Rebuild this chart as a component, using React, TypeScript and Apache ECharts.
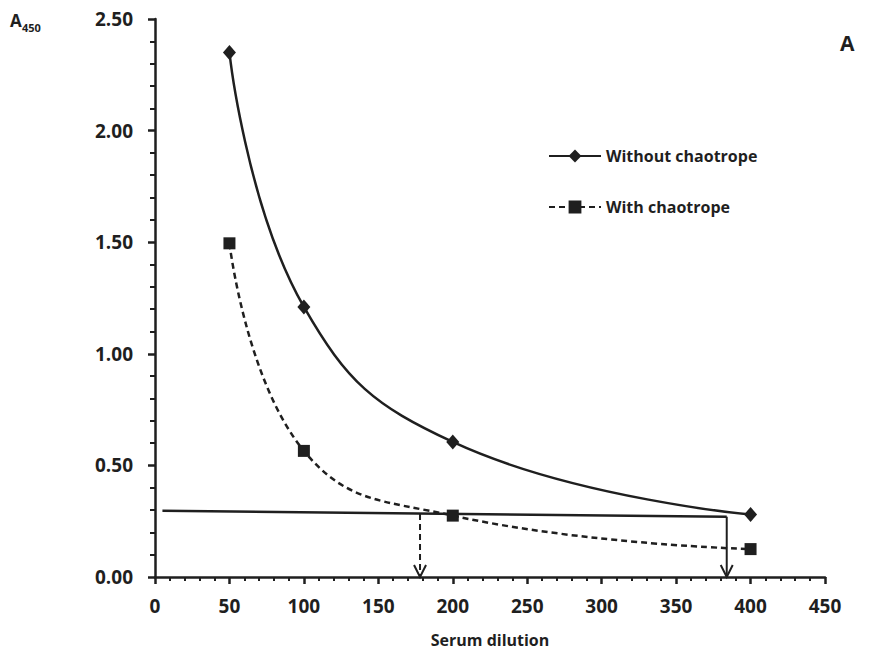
import React, { useEffect, useRef } from "react";
import * as echarts from "echarts";

const dilution = [50, 100, 200, 400];
const withoutChaotrope = [2.35, 1.21, 0.605, 0.28];
const withChaotrope = [1.495, 0.565, 0.275, 0.125];
const cutoffLine = [[5, 0.297], [384, 0.27]];
const dropWithout = [[384, 0.27], [384, 0]];
const dropWith = [[178, 0.282], [178, 0]];
const xTicks = { min: 0, max: 450, interval: 50 };
const yTicks = { min: 0, max: 2.5, interval: 0.5 };

const FONT = "Open Sans";
const INK = "#1f1f1f";
const arrowPath = "path://M-6,0 L0,10 L6,0";

function App() {
  const ref = useRef<HTMLDivElement>(null);
  useEffect(() => {
    if (!ref.current) return;
    const chart = echarts.init(ref.current, undefined, { renderer: "svg" });
    const arrowEnd = (pts: number[][]) => [
      { value: pts[0], symbol: "none" },
      {
        value: pts[1],
        symbol: arrowPath,
        symbolSize: [12, 12],
        symbolOffset: [0, -6],
        itemStyle: { color: "transparent", borderColor: INK, borderWidth: 2 },
      },
    ];
    chart.setOption({
      animation: false,
      backgroundColor: "#ffffff",
      textStyle: { fontFamily: FONT },
      grid: { left: 155, right: 47, top: 19, bottom: 77, containLabel: false, outerBoundsMode: "none" },
      legend: {
        data: ["Without chaotrope", "With chaotrope"],
        orient: "vertical",
        left: 543,
        top: 143,
        itemWidth: 52,
        itemHeight: 16,
        itemGap: 35,
        itemStyle: { borderWidth: 0 },
        textStyle: { fontFamily: FONT, fontWeight: "bold", fontSize: 16, color: INK },
      },
      xAxis: {
        type: "value",
        min: xTicks.min,
        max: xTicks.max,
        interval: xTicks.interval,
        name: "Serum dilution",
        nameLocation: "middle",
        nameGap: 55,
        nameTextStyle: { fontFamily: FONT, fontWeight: "bold", fontSize: 16, color: INK },
        axisLine: { show: true, onZero: false, lineStyle: { color: INK, width: 2.5 } },
        axisTick: { show: true, length: 7, lineStyle: { color: INK, width: 2.5 } },
        minorTick: { show: true, splitNumber: 5, length: 4, lineStyle: { color: INK, width: 2 } },
        splitLine: { show: false },
        axisLabel: { fontFamily: FONT, fontWeight: "bold", fontSize: 19, color: INK, margin: 19 },
      },
      yAxis: {
        type: "value",
        min: yTicks.min,
        max: yTicks.max,
        interval: yTicks.interval,
        axisLine: { show: true, lineStyle: { color: INK, width: 2.5 } },
        axisTick: { show: true, length: 7, lineStyle: { color: INK, width: 2.5 } },
        minorTick: { show: true, splitNumber: 5, length: 5, lineStyle: { color: INK, width: 2 } },
        splitLine: { show: false },
        axisLabel: {
          fontFamily: FONT,
          fontWeight: "bold",
          fontSize: 19,
          color: INK,
          margin: 22,
          formatter: (v: number) => v.toFixed(2),
        },
      },
      graphic: [
        { type: "text", left: 10, top: 12, style: { text: "A", font: `bold 17px ${FONT}`, fill: INK } },
        { type: "text", left: 22, top: 22, style: { text: "450", font: `bold 11px ${FONT}`, fill: INK } },
        { type: "text", left: 840, top: 32, style: { text: "A", font: `bold 21px ${FONT}`, fill: INK } },
      ],
      series: [
        {
          name: "Without chaotrope",
          type: "line",
          smooth: 0.45,
          data: dilution.map((x, i) => [x, withoutChaotrope[i]]),
          symbol: "diamond",
          symbolSize: [13, 15],
          itemStyle: { color: INK },
          lineStyle: { color: INK, width: 2.5 },
          z: 3,
        },
        {
          name: "With chaotrope",
          type: "line",
          smooth: 0.45,
          data: dilution.map((x, i) => [x, withChaotrope[i]]),
          symbol: "rect",
          symbolSize: 12,
          itemStyle: { color: INK },
          lineStyle: { color: INK, width: 2.5, type: [6, 4] },
          z: 3,
        },
        {
          name: "cutoff",
          type: "line",
          data: cutoffLine,
          symbol: "none",
          lineStyle: { color: INK, width: 2.5 },
          z: 2,
        },
        {
          name: "dropWithout",
          type: "line",
          data: arrowEnd(dropWithout),
          showAllSymbol: true,
          lineStyle: { color: INK, width: 2 },
          z: 2,
        },
        {
          name: "dropWith",
          type: "line",
          data: arrowEnd(dropWith),
          showAllSymbol: true,
          lineStyle: { color: INK, width: 2, type: [6, 4] },
          z: 2,
        },
      ],
    });
    return () => chart.dispose();
  }, []);
  return <div ref={ref} style={{ position: "absolute", left: 0, top: 0, width: 872, height: 654 }} />;
}

export default App;
